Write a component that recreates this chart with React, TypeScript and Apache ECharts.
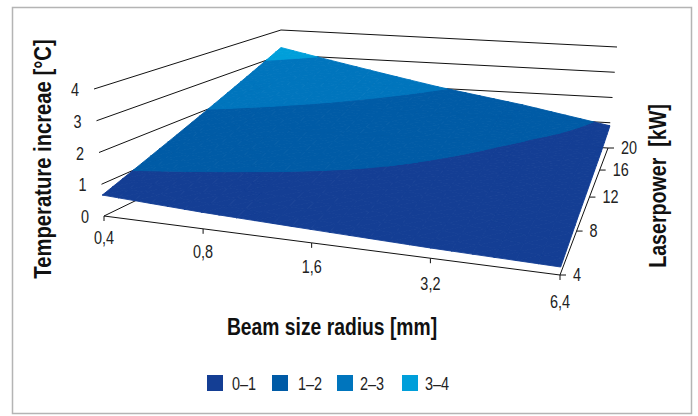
import React, { useEffect, useRef } from "react";
import * as echarts from "echarts";

const beamSizes = ["0,4", "0,8", "1,6", "3,2", "6,4"];
const laserPowers = ["4", "8", "12", "16", "20"];
const tempTicks = [0, 1, 2, 3, 4];
const bandNames = ["0–1", "1–2", "2–3", "3–4"];
const bandLows = [0, 1, 2, 3];
const bandHighs = [1, 2, 3, 4];
const bandColors = ["#143e94", "#005ba6", "#0075bd", "#009fda"];

// one row per laser power (4 ... 20 kW), one column per beam size
const tempAt4 = [0.66, 0.52, 0.42, 0.32, 0.25];
const tempAt8 = [1.32, 1.08, 0.86, 0.6, 0.45];
const tempAt12 = [1.98, 1.6, 1.25, 0.85, 0.58];
const tempAt16 = [2.64, 2.14, 1.64, 1.12, 0.7];
const tempAt20 = [3.3, 2.68, 2.06, 1.52, 0.88];
const temperature = [tempAt4, tempAt8, tempAt12, tempAt16, tempAt20];

type P = [number, number];

function quadMap(p00: P, p10: P, p11: P, p01: P) {
  const [x0, y0] = p00, [x1, y1] = p10, [x2, y2] = p11, [x3, y3] = p01;
  const dx1 = x1 - x2, dx2 = x3 - x2, sx = x0 - x1 + x2 - x3;
  const dy1 = y1 - y2, dy2 = y3 - y2, sy = y0 - y1 + y2 - y3;
  const det = dx1 * dy2 - dx2 * dy1;
  const g = (sx * dy2 - dx2 * sy) / det;
  const h = (dx1 * sy - sx * dy1) / det;
  const a = x1 - x0 + g * x1, b = x3 - x0 + h * x3;
  const d = y1 - y0 + g * y1, e = y3 - y0 + h * y3;
  return (u: number, v: number): P => {
    const w = g * u + h * v + 1;
    return [(a * u + b * v + x0) / w, (d * u + e * v + y0) / w];
  };
}

const floorMap = quadMap([104, 216], [560, 275], [608, 148], [281, 130]);
const roofMap = quadMap([94, 89], [571, 147], [617, 47], [281, 30]);
const Z_MAX = tempTicks[tempTicks.length - 1];
const U_WARP = 0.124;

// u, v are grid indices (0..4), z is the temperature
function project(u: number, v: number, z: number): P {
  const s = u / 4;
  const w = s + U_WARP * s * (1 - s);
  const a = floorMap(w, v / 4);
  const b = roofMap(w, v / 4);
  const t = z / Z_MAX;
  return [a[0] + (b[0] - a[0]) * t, a[1] + (b[1] - a[1]) * t];
}

type V = [number, number, number];

function clipBelow(poly: V[], limit: number, sign: number): V[] {
  const out: V[] = [];
  for (let i = 0; i < poly.length; i++) {
    const a = poly[i];
    const b = poly[(i + 1) % poly.length];
    const da = (limit - a[2]) * sign;
    const db = (limit - b[2]) * sign;
    if (da >= 0) out.push(a);
    if ((da > 0 && db < 0) || (da < 0 && db > 0)) {
      const t = da / (da - db);
      out.push([a[0] + (b[0] - a[0]) * t, a[1] + (b[1] - a[1]) * t, limit]);
    }
  }
  return out;
}

function cellPolygons(i: number, j: number, lo: number, hi: number) {
  const n = 6;
  const z = (s: number, t: number) => {
    const a = temperature[j][i], b = temperature[j][i + 1];
    const c = temperature[j + 1][i], d = temperature[j + 1][i + 1];
    return (a * (1 - s) + b * s) * (1 - t) + (c * (1 - s) + d * s) * t;
  };
  const polys: P[][] = [];
  const vert = (a: number, b: number): V => [i + a / n, j + b / n, z(a / n, b / n)];
  for (let a = 0; a < n; a++) {
    for (let b = 0; b < n; b++) {
      const q = [vert(a, b), vert(a + 1, b), vert(a + 1, b + 1), vert(a, b + 1)];
      for (const tri of [[q[0], q[1], q[2]], [q[0], q[2], q[3]]]) {
        let p = clipBelow(tri as V[], hi, 1);
        if (p.length) p = clipBelow(p, lo, -1);
        if (p.length >= 3) polys.push(p.map((w) => project(w[0], w[1], w[2])));
      }
    }
  }
  return polys;
}

const TEXT = "#222222";
const FONT = '"Liberation Sans", sans-serif';
const NARROW = 0.76;

function label(text: string, x: number, y: number, align: string) {
  return {
    type: "text",
    x,
    y,
    scaleX: NARROW,
    style: { text, fill: TEXT, fontSize: 19, fontFamily: FONT, align, verticalAlign: "middle" },
  };
}

function title(text: string, x: number, y: number, rotation: number, scaleX: number) {
  return {
    type: "text",
    x,
    y,
    rotation,
    scaleX,
    style: {
      text, fill: "#111", align: "center", verticalAlign: "middle",
      fontSize: 23, fontWeight: "bold", fontFamily: FONT,
    },
  };
}

export default function App() {
  const ref = useRef<HTMLDivElement>(null);
  useEffect(() => {
    document.body.style.margin = "0";
    const chart = echarts.init(ref.current!, undefined, { renderer: "svg" });

    const cells: number[][] = [];
    for (let j = 0; j < laserPowers.length - 1; j++)
      for (let i = 0; i < beamSizes.length - 1; i++) cells.push([i, j]);

    const wallSeries = {
      type: "custom",
      coordinateSystem: "none",
      silent: true,
      data: tempTicks.map((t) => [t]),
      renderItem: (_: any, api: any) => {
        const t = api.value(0);
        const a = project(0, 0, t), b = project(0, 4, t), c = project(4, 4, t);
        return {
          type: "group",
          children: [
            {
              type: "polyline",
              shape: { points: [a, b, c] },
              style: { stroke: "#111", lineWidth: 1, fill: "none" },
            },
            label(String(t), a[0] - 15, a[1] + 1, "right"),
          ],
        };
      },
    };

    const beamSeries = {
      type: "custom",
      coordinateSystem: "none",
      silent: true,
      data: beamSizes.map((_, i) => [i]),
      renderItem: (_: any, api: any) => {
        const i = api.value(0);
        const a = project(i, 0, 0);
        const children: any[] = [
          { type: "line", shape: { x1: a[0], y1: a[1], x2: a[0], y2: a[1] + 5 }, style: { stroke: "#111", lineWidth: 1 } },
          label(beamSizes[i], a[0], a[1] + 22 + i * 1.2, "center"),
        ];
        if (i < beamSizes.length - 1) {
          const b = project(i + 1, 0, 0);
          children.push({ type: "line", shape: { x1: a[0], y1: a[1], x2: b[0], y2: b[1] }, style: { stroke: "#111", lineWidth: 1 } });
        }
        return { type: "group", children };
      },
    };

    const powerSeries = {
      type: "custom",
      coordinateSystem: "none",
      silent: true,
      data: laserPowers.map((_, j) => [j]),
      renderItem: (_: any, api: any) => {
        const j = api.value(0);
        const a = project(4, j, 0);
        const children: any[] = [
          { type: "line", shape: { x1: a[0], y1: a[1], x2: a[0] + 6, y2: a[1] }, style: { stroke: "#111", lineWidth: 1 } },
          label(laserPowers[j], a[0] + 13, a[1], "left"),
        ];
        if (j < laserPowers.length - 1) {
          const b = project(4, j + 1, 0);
          children.push({ type: "line", shape: { x1: a[0], y1: a[1], x2: b[0], y2: b[1] }, style: { stroke: "#111", lineWidth: 1 } });
        }
        return { type: "group", children };
      },
    };

    const surfaceSeries = bandNames.map((name, k) => ({
      type: "custom",
      name,
      coordinateSystem: "none",
      silent: true,
      itemStyle: { color: bandColors[k] },
      data: cells,
      renderItem: (_: any, api: any) => {
        const polys = cellPolygons(api.value(0), api.value(1), bandLows[k], bandHighs[k]);
        return {
          type: "group",
          children: polys.map((points) => ({
            type: "polygon",
            shape: { points },
            style: { fill: bandColors[k], stroke: bandColors[k], lineWidth: 0.9 },
          })),
        };
      },
    }));

    const legendTextX = [232, 298, 360, 425];

    chart.setOption({
      animation: false,
      color: bandColors,
      legend: {
        left: 207,
        top: 375,
        padding: 0,
        itemWidth: 16,
        itemHeight: 16,
        itemGap: 49,
        icon: "rect",
        selectedMode: false,
        data: bandNames,
        formatter: () => "",
        textStyle: { color: TEXT, fontSize: 18, fontFamily: FONT },
      },
      graphic: [
        {
          type: "rect",
          shape: { x: 12.5, y: 7.5, width: 679, height: 406 },
          style: { fill: "none", stroke: "#b4b4b4", lineWidth: 1.5 },
          z: -10,
        },
        title("Temperature increae [°C]", 43, 159, Math.PI / 2, 0.88),
        title("Laserpower  [kW]", 658, 186, Math.PI / 2, 0.855),
        title("Beam size radius [mm]", 332, 327, 0, 0.84),
        ...bandNames.map((name, k) => label(name, legendTextX[k], 384, "left")),
      ],
      series: [wallSeries, beamSeries, powerSeries, ...surfaceSeries],
    });
    return () => chart.dispose();
  }, []);
  return <div ref={ref} style={{ width: 698, height: 416 }} />;
}
